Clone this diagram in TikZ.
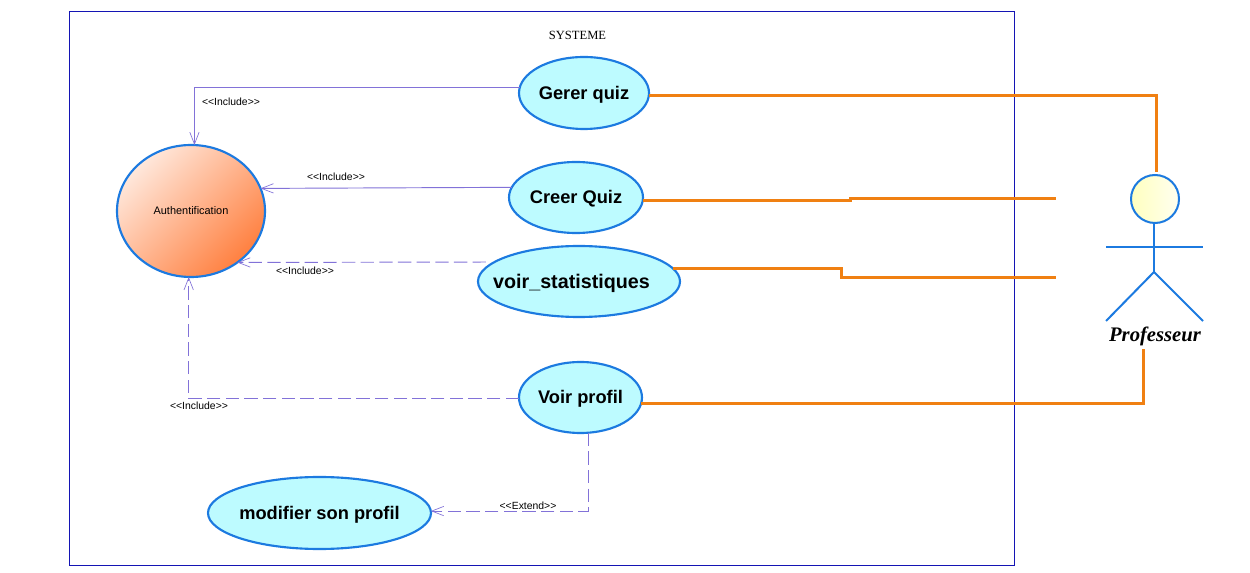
\documentclass[tikz,border=0pt]{standalone}
\usepackage{fontspec}
\setmainfont{Liberation Sans}
\newfontfamily\serifface{Liberation Serif}
\usetikzlibrary{arrows.meta,shapes.geometric}
\definecolor{ucblue}{HTML}{1C7AE0}
\definecolor{ucfill}{HTML}{BDFBFF}
\definecolor{linkc}{HTML}{8272D8}
\definecolor{orangec}{HTML}{F08012}
\definecolor{framec}{HTML}{1414B4}
\definecolor{authlight}{HTML}{FFE8DC}
\definecolor{authdark}{HTML}{FF8040}
\newcommand{\caselabel}[1]{\makebox[0pt][c]{\raisebox{-0.34em}[0pt][0pt]{#1}}}
\tikzset{
  x=0.75pt,y=-0.75pt,
  usecase/.style n args={2}{ellipse,draw=ucblue,line width=1.6pt,fill=ucfill,inner sep=0pt,outer sep=0pt,
    minimum width=#1*0.75pt,minimum height=#2*0.75pt,text=black,font=\fontsize{13.7}{16}\selectfont\bfseries},
  authcase/.style={ellipse,draw=ucblue,line width=1.6pt,inner sep=0pt,outer sep=0pt,
    minimum width=111pt,minimum height=99pt,top color=authlight,bottom color=authdark,
    shading angle=45,font=\fontsize{8.2}{9}\selectfont},
  tag/.style={inner sep=0pt,text=black,font=\fontsize{7.8}{9}\selectfont},
  inc/.style={draw=linkc,line width=0.7pt,-{Straight Barb[length=9pt,width=7pt,line width=0.5pt]}},
  incdash/.style={inc,dash pattern=on 10pt off 4pt},
  assoc/.style={draw=orangec,line width=2.25pt},
  actorline/.style={draw=ucblue,line width=1.5pt},
}
\begin{document}
\begin{tikzpicture}
\useasboundingbox (0,0) rectangle (1250,573);
\fill[white] (0,0) rectangle (1250,573);
\node[draw=framec,line width=0.7pt,minimum width=708.75pt,minimum height=415.5pt,inner sep=0pt] (sys) at (541.5,288) {};
\node[font=\serifface\fontsize{9.4}{11}\selectfont,inner sep=0pt] (title) at (577.5,35) {SYSTEME};

\node[usecase={130}{72}] (gerer) at (584,93) {\caselabel{Gerer quiz}};
\node[usecase={134}{71}] (creer) at (576,197.5) {\caselabel{Creer Quiz}};
\node[usecase={202}{71}] (stat) at (579,281.5) {\fontsize{14.8}{16}\selectfont\caselabel{\hspace*{-11.25pt}voir\_statistiques}};
\node[usecase={123}{71}] (profil) at (580.5,397.5) {\caselabel{Voir profil}};
\node[usecase={223}{72}] (modif) at (319.5,513) {\fontsize{13.7}{16}\selectfont\caselabel{modifier son profil}};
\node[authcase] (auth) at (191,211) {\caselabel{Authentification}};

% actor
\node[circle,draw=ucblue,line width=1.5pt,inner sep=0pt,outer sep=0pt,minimum size=36pt,left color=yellow!25!white,right color=yellow!6!white] (head) at (1155,199) {};
\coordinate (hip) at (1154,272);
\coordinate (armL) at (1106,247);
\coordinate (armR) at (1203,247);
\coordinate (legL) at (1106,321);
\coordinate (legR) at (1203,321);
\draw[actorline] (hip |- head.south) -- (hip);
\draw[actorline] (armL) -- (armR);
\draw[actorline] (legL) -- (hip) -- (legR);
\node[font=\serifface\fontsize{15.5}{18}\selectfont\bfseries\itshape,inner sep=0pt] (prof) at (1155,336) {Professeur};

% include / extend
\draw[inc] (gerer.175) -| (auth.87);
\draw[inc] (creer.171) -- (auth.18);
\draw[incdash,shorten <=6.5pt] (stat.167) -- (auth.-48);
\draw[incdash] (profil.181) -| (auth.-92);
\draw[incdash] (profil.-78) |- (modif.1);
\node[tag] (l1) at (231,102) {<{}<Include>{}>};
\node[tag] (l2) at (336,177) {<{}<Include>{}>};
\node[tag] (l3) at (305,271) {<{}<Include>{}>};
\node[tag] (l4) at (199,406) {<{}<Include>{}>};
\node[tag] (l5) at (528,506) {<{}<Extend>{}>};

% associations
\coordinate (headtop) at (1156,172);
\coordinate (e2) at (1056,199);
\coordinate (e3) at (1056,278);
\coordinate (e4) at (1143,349);
\coordinate (k2) at (850,199);
\coordinate (k3) at (841,278);
\draw[assoc] (gerer.-2) -| (headtop);
\draw[assoc] (creer.-3) -- (k2 |- creer.-3) -- (k2) -- (e2);
\draw[assoc] (stat.8) -- (k3 |- stat.8) -- (k3) -- (e3);
\draw[assoc] (profil.-6) -| (e4);
\end{tikzpicture}
\end{document}
